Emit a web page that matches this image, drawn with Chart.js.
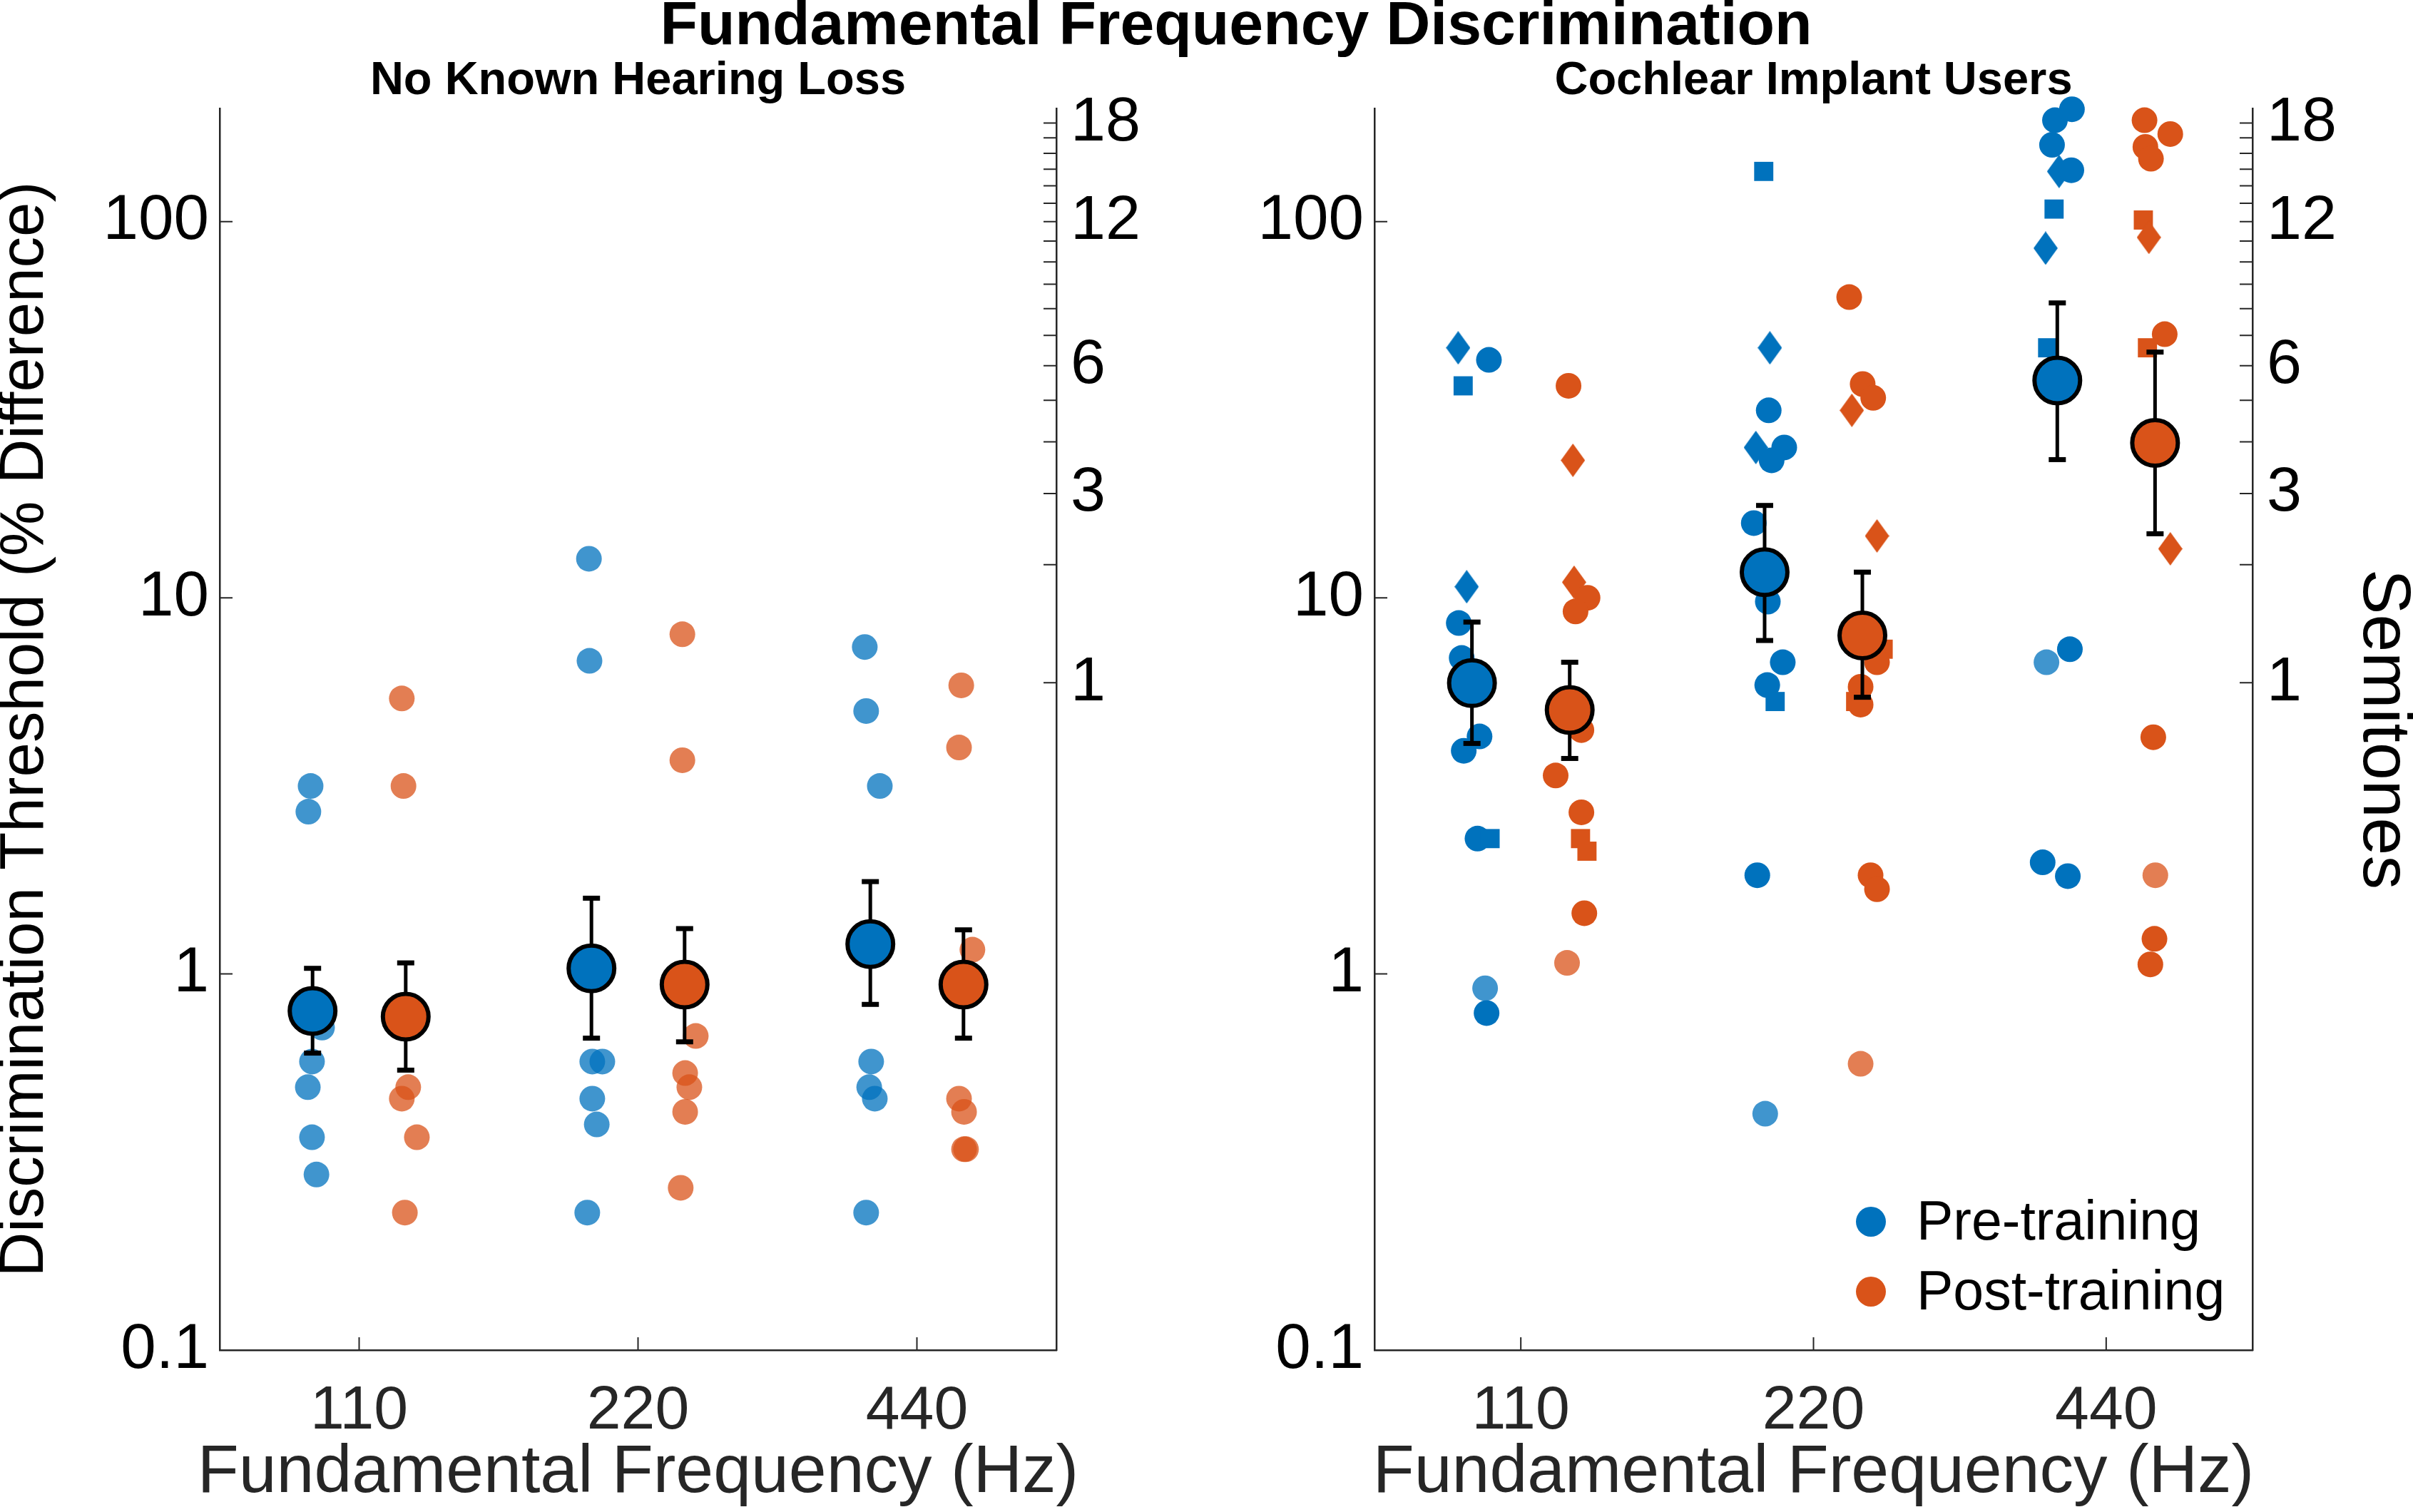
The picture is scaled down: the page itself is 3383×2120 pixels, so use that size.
<!DOCTYPE html>
<html>
<head>
<meta charset="utf-8">
<title>Fundamental Frequency Discrimination</title>
<script src="https://cdn.jsdelivr.net/npm/chart.js@4.4.1/dist/chart.umd.min.js"></script>
<style>
  html, body { margin: 0; padding: 0; background: #fff; overflow: hidden; }
  #wrap { position: relative; width: 3383px; height: 2120px; }
  #wrap canvas { position: absolute; left: 0; top: 0; }
</style>
</head>
<body>
<div id="wrap">
  <canvas id="nh" width="3383" height="2120"></canvas>
  <canvas id="ci" width="3383" height="2120"></canvas>
</div>
<script>
const mainTitle = "Fundamental Frequency Discrimination";
const panelTitles = ["No Known Hearing Loss", "Cochlear Implant Users"];
const seriesNames = ["Pre-training", "Post-training"];
const xAxisTitle = "Fundamental Frequency (Hz)";
const freqLabels = ["110", "220", "440"];
const percentTicks = [0.1, 1, 10, 100];
const semitoneTicks = [1, 2, 3, 4, 5, 6, 7, 8, 9, 10, 11, 12, 13, 14, 15, 16, 17, 18];
const semitoneLabels = [1, 3, 6, 12, 18];

// No known hearing loss: thresholds (% difference) per F0, 110 / 220 / 440 Hz
const nhPre = [
    [3.16, 2.7, 0.72, 0.585, 0.5, 0.368, 0.293],
    [12.7, 6.8, 0.585, 0.585, 0.466, 0.398, 0.232],
    [7.4, 5.0, 3.16, 0.585, 0.5, 0.466, 0.232],
];
const nhPost = [
    [5.4, 3.16, 0.5, 0.466, 0.368, 0.232],
    [8.0, 3.7, 0.684, 0.545, 0.5, 0.43, 0.27],
    [5.85, 4.0, 1.16, 0.466, 0.43, 0.342, 0.342],
];
// horizontal jitter of each listener (category units)
const nhPreJitter = [
    [-0.174, -0.182, -0.133, -0.169, -0.184, -0.169, -0.153],
    [-0.176, -0.174, -0.164, -0.128, -0.164, -0.148, -0.182],
    [-0.187, -0.182, -0.133, -0.164, -0.171, -0.151, -0.182],
];
const nhPostJitter = [
    [0.153, 0.159, 0.176, 0.153, 0.207, 0.164],
    [0.159, 0.159, 0.207, 0.169, 0.184, 0.169, 0.153],
    [0.159, 0.151, 0.199, 0.151, 0.169, 0.169, 0.176],
];
const nhPreMean = [0.797, 1.035, 1.2];
const nhPreLow = [0.616, 0.675, 0.83];
const nhPreHigh = [1.035, 1.59, 1.76];
const nhPostMean = [0.77, 0.937, 0.937];
const nhPostLow = [0.555, 0.66, 0.675];
const nhPostHigh = [1.07, 1.32, 1.31];

// Cochlear implant users
const ciPre = [
    [46.2, 42.9, 36.6, 10.7, 8.57, 6.92, 4.28, 3.92, 2.29, 2.29, 0.916, 0.787],
    [136, 46.2, 31.5, 25.1, 25.1, 23.2, 15.8, 9.77, 6.74, 5.86, 5.3, 1.83, 0.425],
    [199, 186, 160, 136, 137, 108, 85, 46.2, 7.3, 6.74, 1.98, 1.82],
];
const ciPost = [
    [36.6, 23.2, 11.0, 10, 9.2, 4.45, 3.37, 2.69, 2.29, 2.12, 1.45, 1.07],
    [63, 37, 34, 31.5, 14.6, 7.3, 6.74, 5.8, 5.3, 5.2, 1.83, 1.68, 0.577],
    [186, 171, 158, 147, 101, 90.8, 50.2, 46.2, 13.5, 4.26, 1.83, 1.24, 1.06],
];
// marker code per user: c circle, l faded circle, s square, d diamond
const ciPreMarker = [
    ["d", "c", "s", "d", "c", "c", "c", "c", "c", "s", "l", "c"],
    ["s", "d", "c", "d", "c", "c", "c", "c", "c", "c", "s", "c", "l"],
    ["c", "c", "c", "d", "c", "s", "d", "s", "c", "l", "c", "c"],
];
const ciPostMarker = [
    ["c", "d", "d", "c", "c", "c", "c", "c", "s", "s", "c", "l"],
    ["c", "c", "c", "d", "d", "s", "c", "c", "s", "c", "c", "c", "l"],
    ["c", "c", "c", "c", "s", "d", "c", "s", "d", "c", "l", "c", "c"],
];
const ciPreJitter = [
    [-0.214, -0.109, -0.197, -0.185, -0.212, -0.202, -0.141, -0.195, -0.148, -0.105, -0.122, -0.117],
    [-0.17, -0.149, -0.153, -0.197, -0.1, -0.143, -0.204, -0.156, -0.105, -0.158, -0.131, -0.192, -0.165],
    [-0.117, -0.175, -0.185, -0.161, -0.119, -0.178, -0.207, -0.2, -0.124, -0.204, -0.217, -0.131],
];
const ciPostJitter = [
    [0.163, 0.178, 0.182, 0.228, 0.187, 0.207, 0.119, 0.207, 0.204, 0.226, 0.217, 0.158],
    [0.122, 0.168, 0.204, 0.131, 0.217, 0.238, 0.217, 0.161, 0.144, 0.161, 0.195, 0.217, 0.161],
    [0.131, 0.219, 0.134, 0.153, 0.127, 0.146, 0.2, 0.141, 0.219, 0.161, 0.168, 0.165, 0.151],
];
const ciPreMean = [5.93, 11.7, 37.8];
const ciPreLow = [4.1, 7.7, 23.3];
const ciPreHigh = [8.62, 17.6, 60.8];
const ciPostMean = [5.03, 7.94, 25.8];
const ciPostLow = [3.74, 5.44, 14.8];
const ciPostHigh = [6.74, 11.7, 45];

const blue = "#0072BD";
const orange = "#D95319";
const fadedColor = { [blue]: "rgba(0, 114, 189, 0.75)", [orange]: "rgba(217, 83, 25, 0.75)" };
const axisColor = "#262626";
const fontFamily = '"Liberation Sans", Arial, Helvetica, sans-serif';
const meanOffset = 0.167;
const tickLen = 18;

Chart.defaults.font.family = fontFamily;

// tall MATLAB-like diamond markers
function makeDiamond(color) {
    const c = document.createElement("canvas");
    c.width = 34;
    c.height = 47;
    const g = c.getContext("2d");
    g.fillStyle = color;
    g.beginPath();
    g.moveTo(17, 0);
    g.lineTo(34, 23.5);
    g.lineTo(17, 47);
    g.lineTo(0, 23.5);
    g.closePath();
    g.fill();
    return c;
}
const diamonds = { [blue]: makeDiamond(blue), [orange]: makeDiamond(orange) };

function pointsDataset(label, values, jitter, markers, color) {
    const data = [];
    values.forEach((arr, f) => {
        arr.forEach((v, i) => {
            data.push({ x: f + 1 + jitter[f][i], y: v, m: markers ? markers[f][i] : "l" });
        });
    });
    const code = (ctx) => (ctx.raw ? ctx.raw.m : "c");
    return {
        label: label,
        data: data,
        order: 2,
        clip: false,
        pointStyle: (ctx) => {
            const m = code(ctx);
            if (m === "d") return diamonds[color];
            if (m === "s") return "rect";
            return "circle";
        },
        pointRadius: (ctx) => (code(ctx) === "s" ? 19 : 18),
        pointBackgroundColor: (ctx) => (code(ctx) === "l" ? fadedColor[color] : color),
        pointBorderWidth: 0,
    };
}

function meanDataset(label, means, low, high, offset, color) {
    return {
        label: label,
        data: means.map((v, f) => ({ x: f + 1 + offset, y: v })),
        errLow: low,
        errHigh: high,
        order: 0,
        clip: false,
        pointRadius: 32,
        pointBorderWidth: 6,
        pointBorderColor: "#000",
        pointBackgroundColor: color,
    };
}

// error bars drawn just before the mean markers
const errorBars = {
    id: "errorBars",
    beforeDatasetDraw(chart, args) {
        const ds = chart.data.datasets[args.index];
        if (!ds.errLow) return;
        const { ctx, scales } = chart;
        ctx.save();
        ctx.strokeStyle = "#000";
        ctx.fillStyle = "#000";
        ctx.lineWidth = 5;
        ds.data.forEach((p, i) => {
            const x = scales.x.getPixelForValue(p.x);
            const yLo = scales.y.getPixelForValue(ds.errLow[i]);
            const yHi = scales.y.getPixelForValue(ds.errHigh[i]);
            ctx.beginPath();
            ctx.moveTo(x, yLo);
            ctx.lineTo(x, yHi);
            ctx.stroke();
            ctx.fillRect(x - 12, yLo - 3.5, 24, 7);
            ctx.fillRect(x - 12, yHi - 3.5, 24, 7);
        });
        ctx.restore();
    },
};

// inward tick marks, like the original figure
const tickMarks = {
    id: "tickMarks",
    afterDraw(chart) {
        const { ctx, chartArea: a, scales } = chart;
        ctx.save();
        ctx.strokeStyle = axisColor;
        ctx.lineWidth = 2;
        ctx.beginPath();
        scales.x.ticks.forEach((t) => {
            const px = scales.x.getPixelForValue(t.value);
            ctx.moveTo(px, a.bottom);
            ctx.lineTo(px, a.bottom - tickLen);
        });
        scales.y.ticks.forEach((t) => {
            const py = scales.y.getPixelForValue(t.value);
            ctx.moveTo(a.left, py);
            ctx.lineTo(a.left + tickLen, py);
        });
        scales.y2.ticks.forEach((t) => {
            const py = scales.y2.getPixelForValue(t.value);
            ctx.moveTo(a.right, py);
            ctx.lineTo(a.right - tickLen, py);
        });
        ctx.stroke();
        ctx.restore();
    },
};

// panel subtitle, x-axis title (may overhang the axes), figure title and legend
const panelText = {
    id: "panelText",
    afterDraw(chart, args, opts) {
        const { ctx, chartArea: a } = chart;
        const cx = (a.left + a.right) / 2;
        ctx.save();
        ctx.fillStyle = "#000";
        ctx.textAlign = "center";
        ctx.textBaseline = "alphabetic";
        ctx.font = "bold 65px " + fontFamily;
        ctx.fillText(opts.subtitle, cx, 132);
        if (opts.showTitle) {
            ctx.font = "bold 86px " + fontFamily;
            ctx.fillText(mainTitle, 1733, 62);
        }
        ctx.fillStyle = axisColor;
        ctx.textBaseline = "middle";
        ctx.font = "95px " + fontFamily;
        ctx.fillText(xAxisTitle, cx, chart.height - 54);
        if (opts.showLegend) {
            const colors = [blue, orange];
            seriesNames.forEach((name, i) => {
                const y = a.bottom - 180 + i * 98;
                const x = a.right - 535;
                ctx.fillStyle = colors[i];
                ctx.beginPath();
                ctx.arc(x, y, 21, 0, Math.PI * 2);
                ctx.fill();
                ctx.fillStyle = "#000";
                ctx.textAlign = "left";
                ctx.textBaseline = "middle";
                ctx.font = "77px " + fontFamily;
                ctx.fillText(name, x + 64, y + 4);
            });
        }
        ctx.restore();
    },
};

function makeScales(cfg) {
    const border = { display: true, color: axisColor, width: 2.5 };
    return {
        x: {
            type: "linear",
            min: 0.5,
            max: 3.5,
            grid: { display: false, drawTicks: false },
            border: border,
            afterBuildTicks: (s) => {
                s.ticks = freqLabels.map((_, i) => ({ value: i + 1 }));
            },
            ticks: {
                callback: (v) => freqLabels[Math.round(v) - 1],
                font: { size: 86 },
                color: axisColor,
                padding: 35,
                maxRotation: 0,
                autoSkip: false,
            },
            title: { display: false },
            afterFit: (s) => {
                s.height = 227;
            },
        },
        y: {
            type: "logarithmic",
            position: "left",
            min: 0.1,
            max: 200,
            grid: { display: false, drawTicks: false },
            border: border,
            afterBuildTicks: (s) => {
                s.ticks = percentTicks.map((v) => ({ value: v }));
            },
            ticks: {
                callback: (v) => String(v),
                font: { size: 89 },
                color: "#000",
                padding: 15,
                autoSkip: false,
            },
            title: {
                display: cfg.leftTitle,
                text: "Discrimination Threshold (% Difference)",
                font: { size: 87, lineHeight: 0.83 },
                color: "#000",
                padding: 0,
            },
            afterFit: (s) => {
                s.width = cfg.leftWidth;
            },
        },
        y2: {
            type: "logarithmic",
            position: "right",
            min: 0.1,
            max: 200,
            grid: { display: false, drawTicks: false },
            border: border,
            afterBuildTicks: (s) => {
                s.ticks = semitoneTicks.map((st) => ({ value: 100 * (Math.pow(2, st / 12) - 1) }));
            },
            ticks: {
                callback: (v, i) => (semitoneLabels.includes(semitoneTicks[i]) ? String(semitoneTicks[i]) : ""),
                font: { size: 88 },
                color: "#000",
                padding: 20,
                autoSkip: false,
            },
            title: {
                display: cfg.rightTitle,
                text: "Semitones",
                font: { size: 95, lineHeight: 0.9 },
                color: "#000",
                padding: 0,
            },
            afterFit: (s) => {
                s.width = cfg.rightWidth;
            },
        },
    };
}

function makePanel(canvasId, datasets, cfg) {
    return new Chart(document.getElementById(canvasId), {
        type: "scatter",
        data: { datasets: datasets },
        options: {
            responsive: false,
            animation: false,
            events: [],
            layout: { padding: cfg.padding },
            plugins: {
                legend: { display: false },
                tooltip: { enabled: false },
                panelText: { subtitle: cfg.subtitle, showTitle: cfg.showTitle, showLegend: cfg.showLegend },
            },
            scales: makeScales(cfg),
        },
        plugins: [errorBars, tickMarks, panelText],
    });
}

makePanel(
    "nh",
    [
        meanDataset(seriesNames[0] + " mean", nhPreMean, nhPreLow, nhPreHigh, -meanOffset, blue),
        meanDataset(seriesNames[1] + " mean", nhPostMean, nhPostLow, nhPostHigh, meanOffset, orange),
        pointsDataset(seriesNames[0], nhPre, nhPreJitter, null, blue),
        pointsDataset(seriesNames[1], nhPost, nhPostJitter, null, orange),
    ],
    {
        padding: { left: 0, right: 1683, top: 152, bottom: 0 },
        leftWidth: 308,
        rightWidth: 219,
        leftTitle: true,
        rightTitle: false,
        subtitle: panelTitles[0],
        showTitle: true,
        showLegend: false,
    }
);

makePanel(
    "ci",
    [
        meanDataset(seriesNames[0] + " mean", ciPreMean, ciPreLow, ciPreHigh, -meanOffset, blue),
        meanDataset(seriesNames[1] + " mean", ciPostMean, ciPostLow, ciPostHigh, meanOffset, orange),
        pointsDataset(seriesNames[0], ciPre, ciPreJitter, ciPreMarker, blue),
        pointsDataset(seriesNames[1], ciPost, ciPostJitter, ciPostMarker, orange),
    ],
    {
        padding: { left: 1700, right: 0, top: 152, bottom: 0 },
        leftWidth: 227,
        rightWidth: 225,
        leftTitle: false,
        rightTitle: true,
        subtitle: panelTitles[1],
        showTitle: false,
        showLegend: true,
    }
);
</script>
</body>
</html>
